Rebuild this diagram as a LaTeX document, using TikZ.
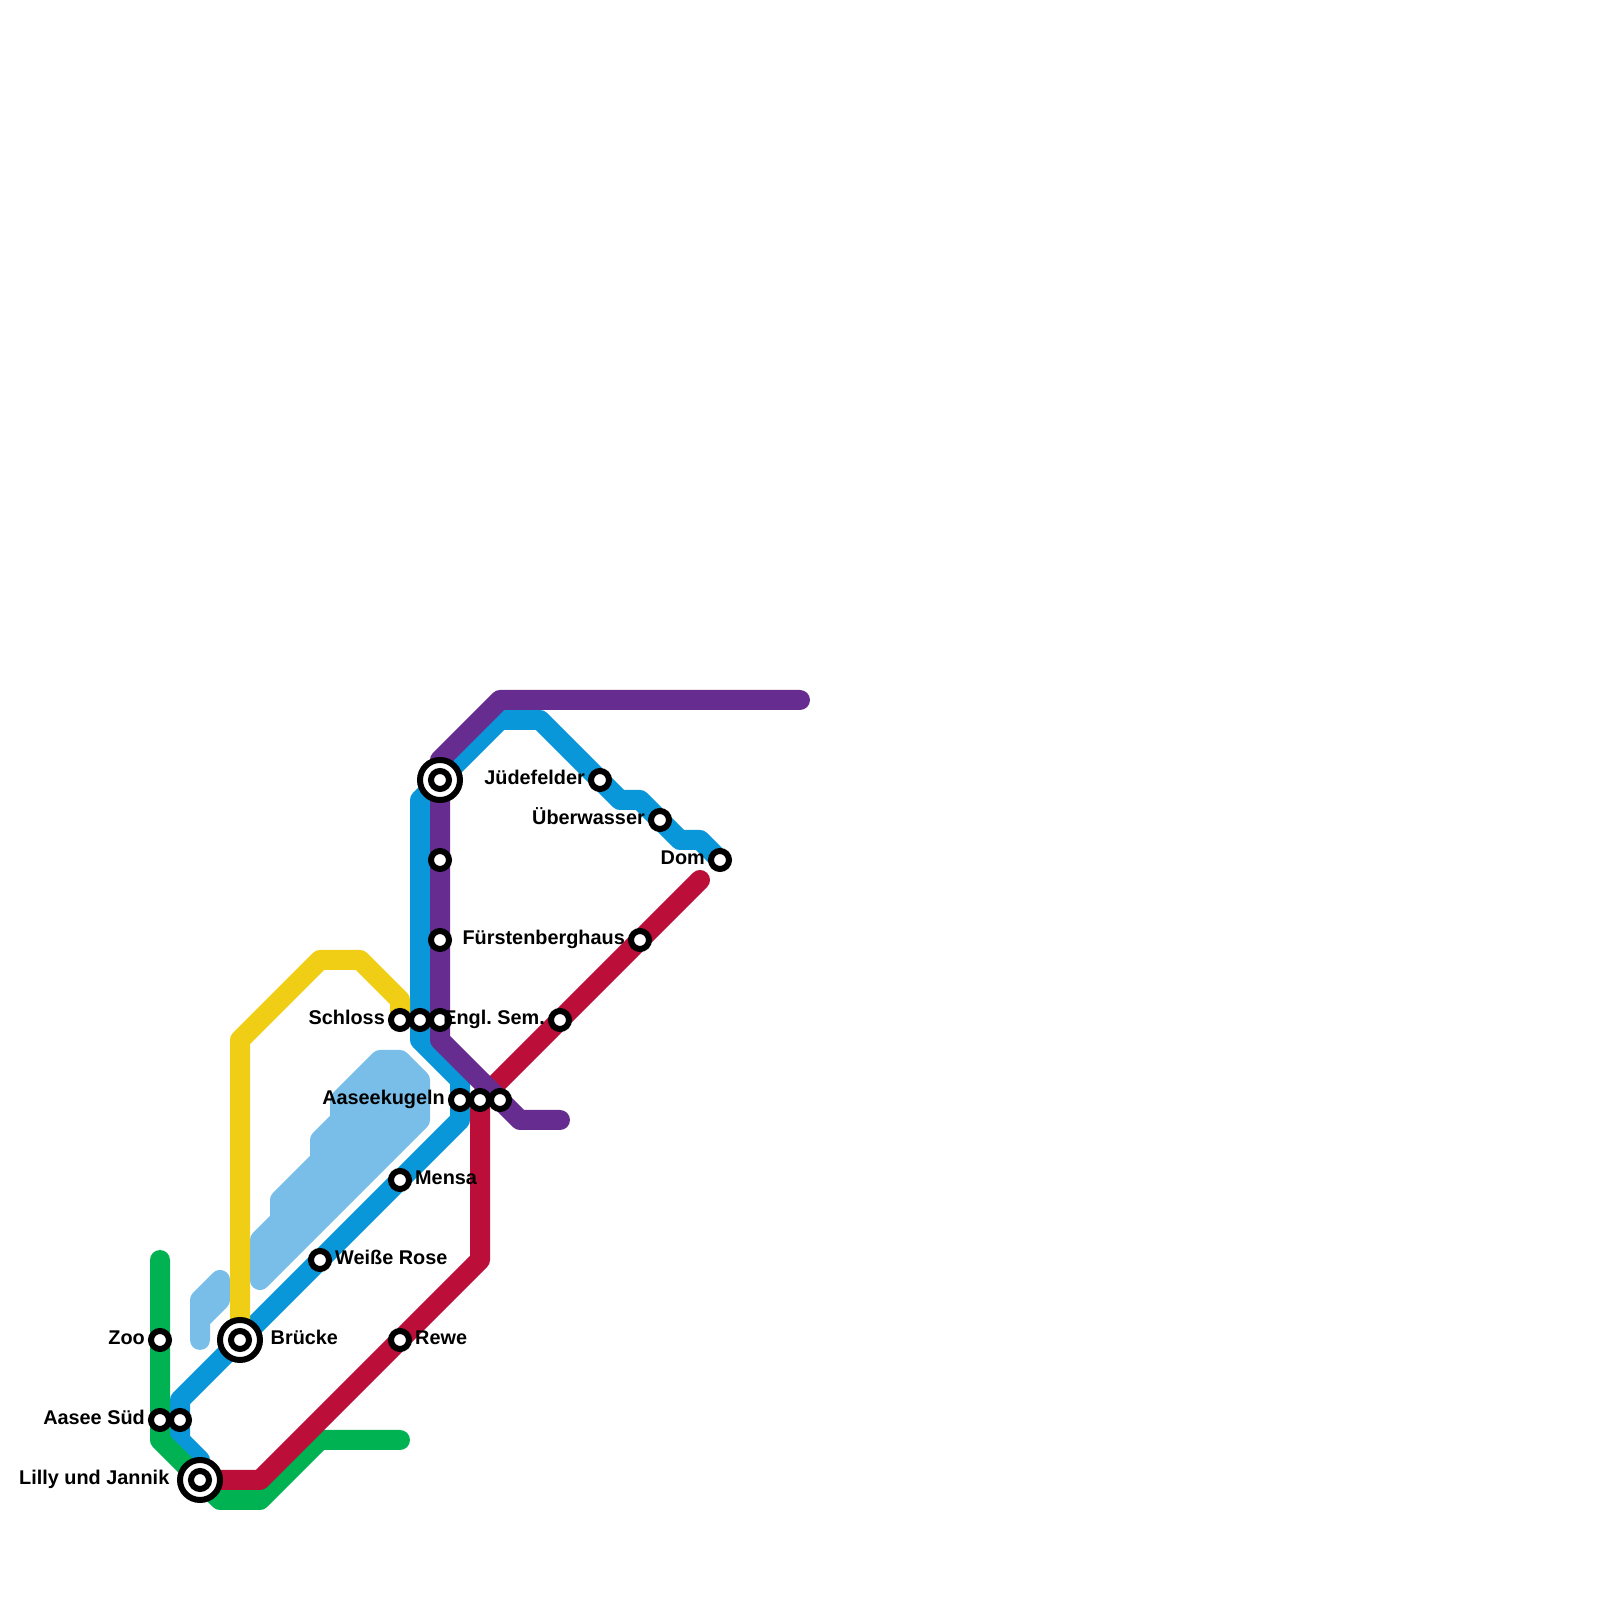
\documentclass[tikz,border=0pt]{standalone}
\usepackage{fontspec}
\setmainfont{Liberation Sans}
\frenchspacing
\usetikzlibrary{arrows}
\pgfdeclarelayer{nodelayer}
\pgfdeclarelayer{edgelayer}
\pgfsetlayers{edgelayer,nodelayer,main}
\definecolor{linegreen}{HTML}{00B251}
\definecolor{lineblue}{HTML}{0A97D9}
\definecolor{linered}{HTML}{BB0F3A}
\definecolor{linepurple}{HTML}{662C90}
\definecolor{lineyellow}{HTML}{F0CE15}
\definecolor{lakeblue}{HTML}{79BDE9}
\tikzstyle{station}=[fill=white, draw=black, shape=circle, line width=0.06cm, inner sep=0pt, minimum size=0.18cm]
\tikzstyle{hub}=[fill=white, draw=black, shape=circle, line width=0.06cm, inner sep=0pt, minimum size=0.40cm]
\tikzstyle{none}=[fill=none, draw=none, shape=circle, inner sep=0pt, minimum size=0pt]
\tikzstyle{tag left}=[anchor=base east, inner sep=0pt, xshift=-0.145cm, yshift=-0.045cm, font=\fontsize{5.65pt}{6pt}\selectfont\bfseries]
\tikzstyle{tag right}=[anchor=base west, inner sep=0pt, xshift=0.145cm, yshift=-0.045cm, font=\fontsize{5.65pt}{6pt}\selectfont\bfseries]
\tikzstyle{metro edge}=[line width=0.2cm, line cap=round, line join=round]
\tikzstyle{lake}=[draw=lakeblue, fill=lakeblue, line width=0.2cm, line join=round]

\begin{document}
\begin{tikzpicture}[x=0.2cm, y=0.2cm]
	\useasboundingbox (0, 0) rectangle (80, 80);
	\begin{pgfonlayer}{nodelayer}
		\node [style=hub] (lillyRing) at (10, 6) {};
		\node [style=hub] (brueckeRing) at (12, 13) {};
		\node [style=hub] (aaseeRing) at (22, 41) {};
		\node [style=station] (zoo) at (8, 13) {};
		\node [style=station] (aaseesued) at (8, 9) {};
		\node [style=station] (aaseesued2) at (9, 9) {};
		\node [style=station] (lilly) at (10, 6) {};
		\node [style=station] (bruecke) at (12, 13) {};
		\node [style=station] (weisserose) at (16, 17) {};
		\node [style=station] (mensa) at (20, 21) {};
		\node [style=station] (rewe) at (20, 13) {};
		\node [style=station] (kugeln) at (23, 25) {};
		\node [style=station] (kugeln2) at (24, 25) {};
		\node [style=station] (kugeln3) at (25, 25) {};
		\node [style=station] (schloss) at (20, 29) {};
		\node [style=station] (schloss2) at (21, 29) {};
		\node [style=station] (schloss3) at (22, 29) {};
		\node [style=station] (englsem) at (28, 29) {};
		\node [style=station] (fuerstenberg) at (32, 33) {};
		\node [style=station] (mitte) at (22, 33) {};
		\node [style=station] (nord) at (22, 37) {};
		\node [style=station] (aasee) at (22, 41) {};
		\node [style=station] (juedefelder) at (30, 41) {};
		\node [style=station] (ueberwasser) at (33, 39) {};
		\node [style=station] (dom) at (36, 37) {};
		\node [style=tag left] (zooText) at (zoo.center) {Zoo};
		\node [style=tag left] (aaseesuedText) at (aaseesued.center) {Aasee Süd};
		\node [style=tag left, xshift=-0.155cm] (lillyText) at (lilly.center) {Lilly und Jannik};
		\node [style=tag right, xshift=0.155cm] (brueckeText) at (bruecke.center) {Brücke};
		\node [style=tag right] (weisseroseText) at (weisserose.center) {Weiße Rose};
		\node [style=tag right] (mensaText) at (mensa.center) {Mensa};
		\node [style=tag right] (reweText) at (rewe.center) {Rewe};
		\node [style=tag left] (kugelnText) at (kugeln.center) {Aaseekugeln};
		\node [style=tag left] (schlossText) at (schloss.center) {Schloss};
		\node [style=tag left] (englsemText) at (englsem.center) {Engl. Sem.};
		\node [style=tag left] (fuerstenbergText) at (fuerstenberg.center) {Fürstenberghaus};
		\node [style=tag left] (juedefelderText) at (juedefelder.center) {Jüdefelder};
		\node [style=tag left] (ueberwasserText) at (ueberwasser.center) {Überwasser};
		\node [style=tag left] (domText) at (dom.center) {Dom};
		\node [style=none] (g0) at (8, 17) {};
		\node [style=none] (g1) at (8, 8) {};
		\node [style=none] (g2) at (11, 5) {};
		\node [style=none] (g3) at (13, 5) {};
		\node [style=none] (g4) at (16, 8) {};
		\node [style=none] (g5) at (20, 8) {};
		\node [style=none] (y0) at (12, 28) {};
		\node [style=none] (y1) at (16, 32) {};
		\node [style=none] (y2) at (18, 32) {};
		\node [style=none] (y3) at (20, 30) {};
		\node [style=none] (b0) at (35, 38) {};
		\node [style=none] (b1) at (34, 38) {};
		\node [style=none] (b2) at (32, 40) {};
		\node [style=none] (b3) at (31, 40) {};
		\node [style=none] (b4) at (27, 44) {};
		\node [style=none] (b5) at (25, 44) {};
		\node [style=none] (b6) at (21, 40) {};
		\node [style=none] (b7) at (21, 28) {};
		\node [style=none] (b8) at (23, 26) {};
		\node [style=none] (b9) at (23, 24) {};
		\node [style=none] (b10) at (9, 10) {};
		\node [style=none] (b11) at (9, 8) {};
		\node [style=none] (b12) at (10, 7) {};
		\node [style=none] (r0) at (13, 6) {};
		\node [style=none] (r1) at (24, 17) {};
		\node [style=none] (r2) at (35, 36) {};
		\node [style=none] (p0) at (40, 45) {};
		\node [style=none] (p1) at (25, 45) {};
		\node [style=none] (p2) at (22, 42) {};
		\node [style=none] (p3) at (22, 28) {};
		\node [style=none] (p4) at (26, 24) {};
		\node [style=none] (p5) at (28, 24) {};
	\end{pgfonlayer}
	\begin{pgfonlayer}{edgelayer}
		\draw [style=lake] (13, 16) -- (13, 18) -- (14, 19) -- (14, 20) -- (16, 22) -- (16, 23) -- (17, 24) -- (17, 25) -- (19, 27) -- (20, 27) -- (21, 26) -- (21, 24) -- cycle;
		\draw [style=lake] (10, 13) -- (10, 15) -- (11, 16) -- (11, 15) -- (10, 14) -- cycle;
		\draw [style=metro edge, draw=lineblue] (dom.center) to (b0.center) to (b1.center) to (ueberwasser.center) to (b2.center) to (b3.center) to (juedefelder.center) to (b4.center) to (b5.center) to (aasee.center) to (b6.center) to (b7.center) to (b8.center) to (b9.center) to (bruecke.center) to (b10.center) to (b11.center) to (b12.center) to (lilly.center);
		\draw [style=metro edge, draw=linegreen] (g0.center) to (aaseesued.center) to (g1.center) to (g2.center) to (g3.center) to (g4.center) to (g5.center);
		\draw [style=metro edge, draw=lineyellow] (bruecke.center) to (y0.center) to (y1.center) to (y2.center) to (y3.center) to (schloss.center);
		\draw [style=metro edge, draw=linered] (lilly.center) to (r0.center) to (r1.center) to (kugeln2.center) to (r2.center);
		\draw [style=metro edge, draw=linepurple] (p0.center) to (p1.center) to (p2.center) to (p3.center) to (p4.center) to (p5.center);
	\end{pgfonlayer}
\end{tikzpicture}
\end{document}
